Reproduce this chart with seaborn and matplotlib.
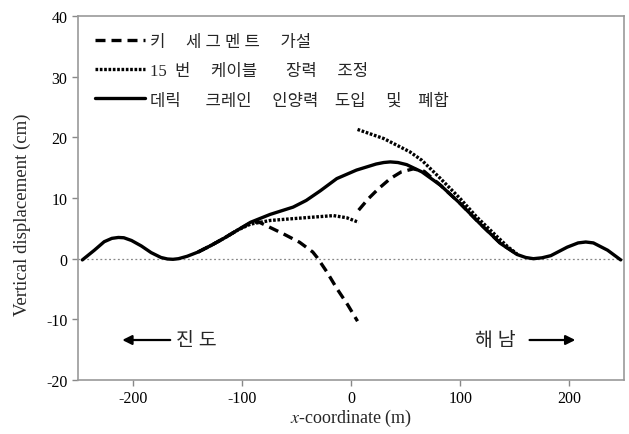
import matplotlib
matplotlib.use("Agg")
import matplotlib.pyplot as plt
import seaborn as sns
import pandas as pd

# ---- data ----
legend_labels = ["키     세 그 멘 트     가설",
                 "15  번     케이블       장력     조정",
                 "데릭      크레인     인양력    도입     및    폐합"]

# solid: derrick crane lifting force + closure
solid_x = [-246, -235, -226, -219, -213, -208, -201, -192, -183, -174, -168, -163, -158, -150, -140,
           -128, -116, -104, -92, -74, -53, -41, -28, -13, 5, 23, 30, 36, 43, 51, 65, 82, 100, 118,
           137, 152, 160, 167, 175, 183, 198, 208, 215, 222, 235, 247]
solid_y = [-0.2, 1.4, 2.8, 3.35, 3.5, 3.45, 3.0, 2.1, 1.0, 0.2, -0.05, -0.1, 0.0, 0.4, 1.1,
           2.2, 3.4, 4.7, 6.0, 7.3, 8.5, 9.6, 11.2, 13.2, 14.6, 15.6, 15.85, 15.95, 15.85, 15.5, 14.3,
           12.1, 9.1, 5.8, 2.5, 0.7, 0.2, 0.0, 0.15, 0.5, 1.9, 2.6, 2.75, 2.6, 1.4, -0.2]

# dotted: cable 15 tension adjustment (two segments)
dot_left_x = [-140, -128, -116, -104, -92, -74, -53, -31, -16, -4, 7]
dot_left_y = [1.1, 2.2, 3.4, 4.7, 5.7, 6.3, 6.6, 6.9, 7.1, 6.75, 6.0]
dot_right_x = [6, 30, 54, 65, 82, 100, 115, 134, 144, 152]
dot_right_y = [21.3, 19.8, 17.6, 16.2, 13.2, 9.9, 6.9, 3.6, 1.9, 0.8]

# dashed: key segment erection (two segments)
dash_left_x = [-140, -128, -116, -104, -92, -85, -77, -62, -47, -35, -31, -22, -13, -3, 6]
dash_left_y = [1.1, 2.2, 3.4, 4.7, 5.9, 6.1, 5.4, 4.1, 2.7, 1.1, 0.2, -2.2, -4.9, -7.6, -10.3]
dash_right_x = [7, 16, 25, 36, 46, 57, 67, 82, 100, 118, 137, 150]
dash_right_y = [8.0, 9.9, 11.5, 13.2, 14.3, 14.8, 14.4, 12.1, 9.1, 5.8, 2.5, 1.0]

x_ticks = [-200, -100, 0, 100, 200]
y_ticks = [-20, -10, 0, 10, 20, 30, 40]

# ---- style ----
sns.set_style("ticks")
plt.rcParams['font.family'] = ['Liberation Serif', 'Noto Sans CJK KR']
plt.rcParams['mathtext.fontset'] = 'stix'
plt.rcParams['axes.unicode_minus'] = False

fig = plt.figure(figsize=(6.29, 4.35), dpi=100)
ax = fig.add_axes([0.124, 0.124, 0.868, 0.837])

ax.axhline(0, color='#888888', lw=0.9, ls=(0, (1.5, 2)), zorder=1)

dash_style = (0, (3.0, 1.8))
dot_style = (0, (0.8, 0.5))

def seg(x, y):
    return pd.DataFrame({"x": x, "y": y})

lw = 2.4
sns.lineplot(data=seg(dash_left_x, dash_left_y), x="x", y="y", ax=ax, color='black', lw=lw,
             linestyle=dash_style, sort=False, estimator=None, label=legend_labels[0])
sns.lineplot(data=seg(dash_right_x, dash_right_y), x="x", y="y", ax=ax, color='black', lw=lw,
             linestyle=dash_style, sort=False, estimator=None)
sns.lineplot(data=seg(dot_left_x, dot_left_y), x="x", y="y", ax=ax, color='black', lw=lw,
             linestyle=dot_style, sort=False, estimator=None, label=legend_labels[1])
sns.lineplot(data=seg(dot_right_x, dot_right_y), x="x", y="y", ax=ax, color='black', lw=lw,
             linestyle=dot_style, sort=False, estimator=None)
sns.lineplot(data=seg(solid_x, solid_y), x="x", y="y", ax=ax, color='black', lw=lw,
             sort=False, estimator=None, label=legend_labels[2])
for ln in ax.get_lines():
    ln.set_solid_joinstyle('round')
    ln.set_dash_joinstyle('round')

ax.set_xlim(-250, 250)
ax.set_ylim(-20, 40)
ax.set_xticks(x_ticks)
ax.set_yticks(y_ticks)
ax.tick_params(axis='both', direction='out', length=4, width=1, color='#888888',
               labelsize=11.5, labelcolor='black')
for s in ax.spines.values():
    s.set_color('#999999')
    s.set_linewidth(1.2)

ax.set_xlabel(r"$\it{x}$-coordinate (m)", fontsize=13, labelpad=0)
ax.set_ylabel("Vertical displacement (cm)", fontsize=13.5, labelpad=11)
ax.yaxis.label.set_y(0.456)

leg = ax.legend(loc='upper left', bbox_to_anchor=(-0.002, 1.0), frameon=False, fontsize=12,
                handlelength=3.0, handletextpad=0.3, labelspacing=0.78, borderaxespad=0.7)

ax.annotate('', xy=(-212, -13.4), xytext=(-163, -13.4),
            arrowprops=dict(arrowstyle='-|>', color='black', lw=1.6, mutation_scale=14))
ax.text(-160, -13.4, "진 도", fontsize=14, ha='left', va='center')
ax.annotate('', xy=(208, -13.4), xytext=(161, -13.4),
            arrowprops=dict(arrowstyle='-|>', color='black', lw=1.6, mutation_scale=14))
ax.text(151, -13.4, "해 남", fontsize=14, ha='right', va='center')

fig.savefig("out.png", dpi=100)
